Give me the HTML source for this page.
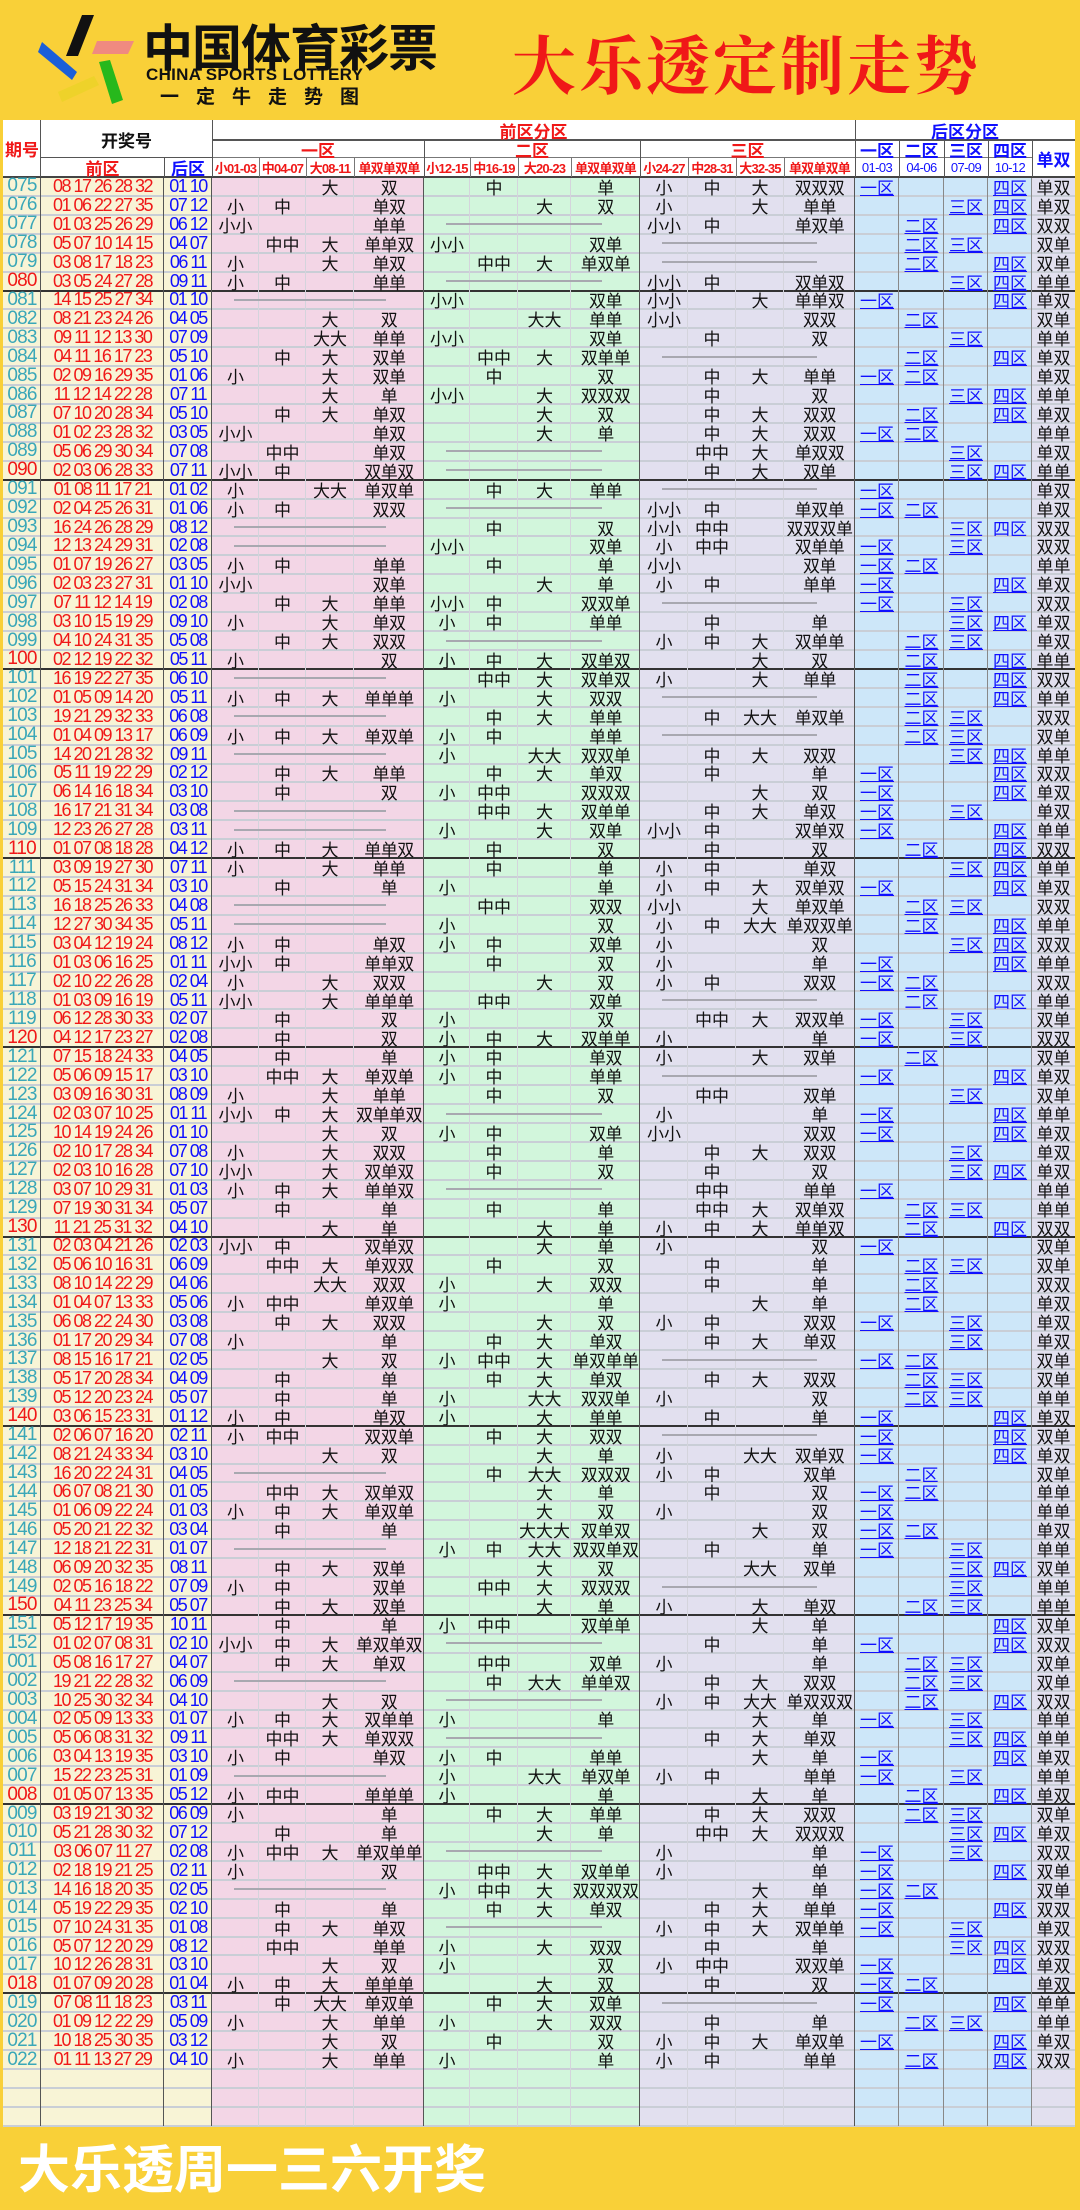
<!DOCTYPE html>
<html><head><meta charset="utf-8">
<style>
*{margin:0;padding:0;box-sizing:border-box}
body{width:1080px;height:2210px;background:#f9d038;position:relative;overflow:hidden;font-family:"Liberation Sans","Noto Sans CJK SC",sans-serif}
.a{position:absolute}
.c{position:absolute;display:flex;align-items:center;justify-content:center;white-space:nowrap;overflow:hidden}
.num{font-size:18px;letter-spacing:-1.5px}
.zt{font-size:17px;color:#111}
.bl{font-size:17px;color:#1010ff;text-decoration:underline;text-underline-offset:1px}
.hl{background:#fff}
</style></head><body>
<div id="logo" class="a" style="left:0;top:0;width:440px;height:118px">
  <svg class="a" style="left:0;top:0" width="140" height="118">
    <polygon points="82,15 94,15 78,56 66,56" fill="#111"/>
    <polygon points="97,41 134,41 128,54 92,54" fill="#f08a80"/>
    <polygon points="42,42 77,72 72,80 38,52" fill="#1b5fd8"/>
    <polygon points="99,62 110,60 123,100 112,104" fill="#27b81c"/>
    <polygon points="58,92 94,76 99,85 62,102" fill="#eed22a"/>
  </svg>
  <div class="a" style="left:143px;top:20px;font-size:50px;font-weight:bold;color:#111;letter-spacing:-1px;font-family:'Noto Sans CJK SC',sans-serif;line-height:50px">中国体育彩票</div>
  <div class="a" style="left:146px;top:65px;font-size:17px;font-weight:bold;color:#111;letter-spacing:0.3px">CHINA SPORTS LOTTERY</div>
  <div class="a" style="left:160px;top:82px;font-size:19px;font-weight:bold;color:#111;letter-spacing:17px;font-family:'Noto Sans CJK SC',sans-serif">一定牛走势图</div>
</div>
<div class="a" style="left:512px;top:22px;font-size:64px;font-weight:bold;color:#f01818;font-family:'Noto Serif CJK SC',serif;letter-spacing:3px;line-height:80px">大乐透定制走势</div>
<div id="tbl" class="a" style="left:0;top:0;width:1080px;height:2210px"></div>
<div class="a" style="left:18px;top:2134px;font-size:52px;font-weight:bold;color:#fff;font-family:'Noto Sans CJK SC',sans-serif;line-height:64px">大乐透周一三六开奖</div>
<script>
const periods=["075","076","077","078","079","080","081","082","083","084","085","086","087","088","089","090","091","092","093","094","095","096","097","098","099","100","101","102","103","104","105","106","107","108","109","110","111","112","113","114","115","116","117","118","119","120","121","122","123","124","125","126","127","128","129","130","131","132","133","134","135","136","137","138","139","140","141","142","143","144","145","146","147","148","149","150","151","152","001","002","003","004","005","006","007","008","009","010","011","012","013","014","015","016","017","018","019","020","021","022"];
const fronts=[
"08 17 26 28 32","01 06 22 27 35","01 03 25 26 29","05 07 10 14 15","03 08 17 18 23","03 05 24 27 28",
"14 15 25 27 34","08 21 23 24 26","09 11 12 13 30","04 11 16 17 23","02 09 16 29 35","11 12 14 22 28","07 10 20 28 34","01 02 23 28 32","05 06 29 30 34","02 03 06 28 33",
"01 08 11 17 21","02 04 25 26 31","16 24 26 28 29","12 13 24 29 31","01 07 19 26 27","02 03 23 27 31","07 11 12 14 19","03 10 15 19 29","04 10 24 31 35","02 12 19 22 32",
"16 19 22 27 35","01 05 09 14 20","19 21 29 32 33","01 04 09 13 17","14 20 21 28 32","05 11 19 22 29","06 14 16 18 34","16 17 21 31 34","12 23 26 27 28","01 07 08 18 28",
"03 09 19 27 30","05 15 24 31 34","16 18 25 26 33","12 27 30 34 35","03 04 12 19 24","01 03 06 16 25","02 10 22 26 28","01 03 09 16 19","06 12 28 30 33","04 12 17 23 27",
"07 15 18 24 33","05 06 09 15 17","03 09 16 30 31","02 03 07 10 25","10 14 19 24 26","02 10 17 28 34","02 03 10 16 28","03 07 10 29 31","07 19 30 31 34","11 21 25 31 32",
"02 03 04 21 26","05 06 10 16 31","08 10 14 22 29","01 04 07 13 33","06 08 22 24 30","01 17 20 29 34","08 15 16 17 21","05 17 20 28 34","05 12 20 23 24","03 06 15 23 31",
"02 06 07 16 20","08 21 24 33 34","16 20 22 24 31","06 07 08 21 30","01 06 09 22 24","05 20 21 22 32","12 18 21 22 31","06 09 20 32 35","02 05 16 18 22","04 11 23 25 34",
"05 12 17 19 35","01 02 07 08 31","05 08 16 17 27","19 21 22 28 32","10 25 30 32 34","02 05 09 13 33","05 06 08 31 32","03 04 13 19 35","15 22 23 25 31","01 05 07 13 35",
"03 19 21 30 32","05 21 28 30 32","03 06 07 11 27","02 18 19 21 25","14 16 18 20 35","05 19 22 29 35","07 10 24 31 35","05 07 12 20 29","10 12 26 28 31","01 07 09 20 28",
"07 08 11 18 23","01 09 12 22 29","10 18 25 30 35","01 11 13 27 29"];
const backs=[
"01 10","07 12","06 12","04 07","06 11","09 11",
"01 10","04 05","07 09","05 10","01 06","07 11","05 10","03 05","07 08","07 11",
"01 02","01 06","08 12","02 08","03 05","01 10","02 08","09 10","05 08","05 11",
"06 10","05 11","06 08","06 09","09 11","02 12","03 10","03 08","03 11","04 12",
"07 11","03 10","04 08","05 11","08 12","01 11","02 04","05 11","02 07","02 08",
"04 05","03 10","08 09","01 11","01 10","07 08","07 10","01 03","05 07","04 10",
"02 03","06 09","04 06","05 06","03 08","07 08","02 05","04 09","05 07","01 12",
"02 11","03 10","04 05","01 05","01 03","03 04","01 07","08 11","07 09","05 07",
"10 11","02 10","04 07","06 09","04 10","01 07","09 11","03 10","01 09","05 12",
"06 09","07 12","02 08","02 11","02 05","02 10","01 08","08 12","03 10","01 04",
"03 11","05 09","03 12","04 10"];
const frontHead=["小01-03","中04-07","大08-11","单双单双单","小12-15","中16-19","大20-23","单双单双单","小24-27","中28-31","大32-35","单双单双单"];
const backHead=["01-03","04-06","07-09","10-12"];
const zoneNames=["一区","二区","三区"];
const backZoneNames=["一区","二区","三区","四区"];

const X=[3,41,164,212,259,306,354,424,470,518,571,640,688,736,784,855,899,944,988,1032,1075];
const TOP=177,RH=18.92,EXTRA=3;
const T=document.getElementById('tbl');
function box(x,y,w,h,bg,cls,txt,name,style){
  const d=document.createElement('div');
  d.className=cls||'a';
  d.style.left=x+'px';d.style.top=y+'px';d.style.width=w+'px';d.style.height=h+'px';
  if(bg)d.style.background=bg;
  if(style)d.style.cssText+=style;
  if(txt!==undefined)d.textContent=txt;
  
  
  T.appendChild(d);return d;
}
const nRows=periods.length+EXTRA;
const bodyH=nRows*RH;
// column backgrounds
const colBg=["#f8f4d6","#f8f4d6","#f8f4d6"];
box(3,TOP,209,bodyH,"#f8f4d6",'a',undefined,'numbers-background');
box(212,TOP,212,bodyH,"#f3d6e6",'a',undefined,'zone1-background');
box(424,TOP,216,bodyH,"#d2f6dc",'a',undefined,'zone2-background');
box(640,TOP,215,bodyH,"#e2e0ef",'a',undefined,'zone3-background');
box(855,TOP,177,bodyH,"#cde7f9",'a',undefined,'back-zone-background');
box(1032,TOP,43,bodyH,"#e2e0ef",'a',undefined,'back-oe-background');
// header white
box(3,120,1072,57,"#fff",'a',undefined,'header-background');
// row lines
for(let i=1;i<=nRows;i++){
  const y=TOP+i*RH;
  const dark=(i<=periods.length)&&((i-6)%10===0);
  box(3,y-1,1072,dark?2:2,dark?"#333":"#c9ced6",'a',undefined,dark?'group-separator':'row-line');
}
// vertical lines
const darkCols=[1,2,3,7,11,15,19];
for(let k=1;k<X.length-1;k++){
  const dark=[1,2,3,7,11,15,16,17,18,19].includes(k);
  box(X[k]-1,TOP,1,bodyH,dark?(k==7||k==11||k==15||k==3||k==1||k==2?"#555":"#888"):"#d4d4dc",'a',undefined,'column-line');
}
// header grid lines
function hl(x,y,w,h,c){box(x,y,w,h,c||"#555",'a',undefined,'header-line');}
hl(3,176,1072,2,"#444");hl(41,157,171,1);hl(212,139,863,2,"#555");hl(212,157,820,1,"#777");
hl(40,120,1,57);hl(212,120,1,57);hl(164,158,1,19);hl(855,120,1,57);hl(424,140,1,37);hl(640,140,1,37);hl(1032,140,1,37);
[899,944,988].forEach(x=>hl(x,140,1,37));
[259,306,354,470,518,571,688,736,784].forEach(x=>hl(x,158,1,19,"#777"));
// header text
const hb='font-weight:bold;font-family:"Noto Sans CJK SC",sans-serif;';
box(3,120,38,57,null,'c','期号','period-header','color:#f01818;font-size:17px;'+hb);
box(41,120,171,38,null,'c','开奖号','draw-number-header','color:#111;font-size:17px;'+hb);
box(41,158,123,19,null,'c','前区','front-area-header','color:#f01818;font-size:17px;'+hb);
box(164,158,48,19,null,'c','后区','back-area-header','color:#1010ff;font-size:17px;'+hb);
box(212,120,643,20,null,'c','前区分区','front-zones-header','color:#f01818;font-size:17px;'+hb);
box(855,120,220,20,null,'c','后区分区','back-zones-header','color:#1010ff;font-size:17px;'+hb);
const zx=[212,424,640,855];
zoneNames.forEach((z,i)=>{box(zx[i],140,zx[i+1]-zx[i],18,null,'c',z,'zone-header','color:#f01818;font-size:17px;text-decoration:underline;'+hb);});
backZoneNames.forEach((z,i)=>{box(X[15+i],140,X[16+i]-X[15+i],18,null,'c',z,'back-zone-header','color:#1010ff;font-size:17px;text-decoration:underline;'+hb);});
box(1032,140,43,37,null,'c','单双','back-oe-header','color:#1010ff;font-size:17px;'+hb);
frontHead.forEach((h,i)=>{box(X[3+i],158,X[4+i]-X[3+i],19,null,'c',h,'sub-header','color:#f01818;font-size:13px;letter-spacing:-0.8px;font-weight:bold;');});
backHead.forEach((h,i)=>{box(X[15+i],158,X[16+i]-X[15+i],19,null,'c',h,'range-header','color:#1010ff;font-size:13px;letter-spacing:-0.6px;');});
// data rows
const oe=n=>n%2?'单':'双';
periods.forEach((p,r)=>{
  const y=TOP+r*RH;
  const last=(r-5)%10===0;
  box(3,y,38,RH,null,'c num',p,'period-cell','color:'+(last?'#f01818':'#3aa7b8')+';letter-spacing:-0.8px;font-size:19px');
  box(41,y,123,RH,null,'c num',fronts[r],'front-numbers','color:#f01818');
  box(164,y,48,RH,null,'c num',backs[r],'back-numbers','color:#1010ff');
  const f=fronts[r].split(' ').map(Number);
  for(let z=0;z<3;z++){
    const lo=1+z*11+(z>0?0:0);
    const base=z===0?1:(z===1?12:24);
    const bounds=z===0?[1,4,8,12]:(z===1?[12,16,20,24]:[24,28,32,36]);
    const inz=f.filter(n=>n>=bounds[0]&&n<bounds[3]);
    const c0=3+z*4;
    if(inz.length===0){
      box(X[c0]+22,y+RH/2-1,X[c0+4]-X[c0]-60,2,"#a8a8b0",'a',undefined,'empty-zone-line');
      continue;
    }
    ['小','中','大'].forEach((s,k)=>{
      const cnt=inz.filter(n=>n>=bounds[k]&&n<bounds[k+1]).length;
      if(cnt)box(X[c0+k],y,X[c0+k+1]-X[c0+k],RH,null,'c zt',s.repeat(cnt),'zone-size-mark');
    });
    box(X[c0+3],y,X[c0+4]-X[c0+3],RH,null,'c zt',inz.map(oe).join(''),'zone-odd-even','letter-spacing:-0.5px');
  }
  const b=backs[r].split(' ').map(Number);
  for(let k=0;k<4;k++){
    if(b.some(n=>n>k*3&&n<=k*3+3))box(X[15+k],y,X[16+k]-X[15+k],RH,null,'c bl',backZoneNames[k],'back-zone-mark');
  }
  box(1032,y,43,RH,null,'c zt',b.map(oe).join(''),'back-odd-even');
});
</script>
</body></html>
